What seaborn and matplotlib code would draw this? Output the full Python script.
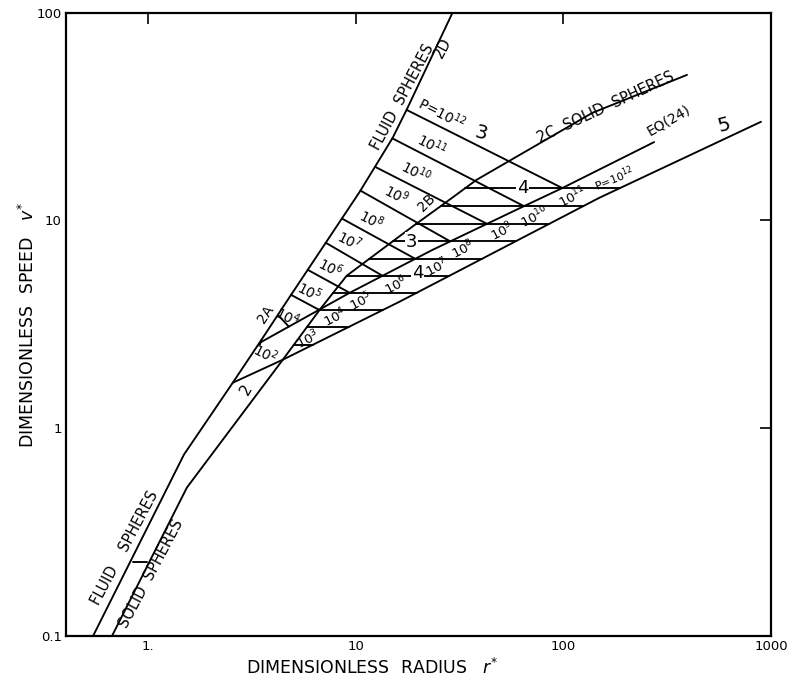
import numpy as np
import pandas as pd
import matplotlib
matplotlib.use("Agg")
import matplotlib.pyplot as plt
import seaborn as sns

sns.set_theme(style="white")
plt.rcParams["font.family"] = ["DejaVu Sans"]
plt.rcParams["mathtext.fontset"] = "dejavusans"
plt.rcParams["text.color"] = "black"

# ---- curves in (r*, v*) ----
fluid_r = [0.544, 1.49, 2.56, 3.57, 4.82, 7.50, 10.45, 15.06, 17.59, 29.3]
fluid_v = [0.1, 0.746, 1.654, 2.72, 4.29, 8.33, 13.7, 24.9, 34.0, 100.0]

solid_r = [0.671, 1.54, 4.46]
solid_v = [0.1, 0.518, 2.135]

solid_bc_r = [4.46, 6.71, 9.05, 18.8, 26.2, 38.2, 138.0, 394.0]
solid_bc_v = [2.135, 3.71, 5.41, 9.34, 11.87, 15.66, 32.9, 50.1]

eq24_r = [3.455, 9.36, 23.45, 63.5, 98.9, 273.8]
eq24_v = [2.576, 4.48, 7.21, 11.6, 14.3, 23.8]

line5_r = [2.56, 4.46, 16.27, 148.9, 895.0]
line5_v = [1.654, 2.135, 4.06, 12.83, 29.8]

# property number P = 10^k lines
p_exp = [3, 4, 5, 6, 7, 8, 9, 10, 11, 12]
p_level_v = [2.52, 3.08, 3.71, 4.48, 5.41, 6.53, 7.92, 9.62, 11.7, 14.3]
p_start_v = [2.66, 3.51, 4.38, 5.78, 7.80, 10.2, 13.9, 18.1, 24.8, 34.0]

# labels of the P lines: left family (along the sloped lines)
left_lab_exp = [12, 11, 10, 9, 8, 7, 6, 5, 4, 2]
left_lab_r = [26.2, 23.45, 19.6, 15.7, 11.9, 9.36, 7.58, 6.01, 4.71, 3.69]
left_lab_v = [32.9, 23.1, 17.1, 13.3, 10.06, 7.97, 5.91, 4.53, 3.44, 2.28]
# right family (along EQ(24))
right_lab_exp = [3, 4, 5, 6, 7, 8, 9, 10, 11]
right_lab_r = [5.88, 7.93, 10.57, 15.7, 24.8, 33.0, 50.9, 72.5, 110.5]
right_lab_v = [2.66, 3.40, 4.06, 4.84, 5.91, 7.21, 8.81, 10.4, 12.97]

x_ticks = [1, 10, 100, 1000]
x_tick_labels = ["1.", "10", "100", "1000"]
y_ticks = [0.1, 1, 10, 100]
y_tick_labels = ["0.1", "1", "10", "100"]


def at_v(v, cr, cv):
    """r on a curve at speed v (log-log interpolation)."""
    return 10 ** np.interp(np.log10(v), np.log10(cv), np.log10(cr))


rows = []


def add(name, rs, vs):
    for r, v in zip(rs, vs):
        rows.append({"seg": name, "r": r, "v": v})


add("fluid", fluid_r, fluid_v)
add("solid", solid_r, solid_v)
add("solid_bc", solid_bc_r, solid_bc_v)
add("eq24", eq24_r, eq24_v)
add("line5", line5_r, line5_v)

for k, vl, vs in zip(p_exp, p_level_v, p_start_v):
    r0 = at_v(vs, fluid_r, fluid_v)
    r1 = at_v(vl, eq24_r, eq24_v)
    add(f"slope{k}", [r0, r1], [vs, vl])
    rl = at_v(vl, solid_bc_r, solid_bc_v)
    rr = at_v(vl, line5_r, line5_v)
    add(f"flat{k}", [rl, rr], [vl, vl])

# short separator between the two lower labels
v_sep = 0.228
rf = at_v(v_sep, fluid_r, fluid_v)
rs_ = at_v(v_sep, solid_r, solid_v)
add("sep", [rf * 1.03, rs_ * 0.97], [v_sep, v_sep])

df = pd.DataFrame(rows)

W, H = 790, 681
fig = plt.figure(figsize=(W / 100, H / 100), dpi=100)
ax = fig.add_axes([66 / W, 1 - 636 / H, (771 - 66) / W, (636 - 12.5) / H])

sns.lineplot(data=df, x="r", y="v", units="seg", estimator=None, sort=False,
             color="black", lw=1.35, ax=ax, legend=False)

ax.set_xscale("log")
ax.set_yscale("log")
ax.set_xlim(0.403, 1000)
ax.set_ylim(0.1, 100)
ax.set_xlabel("")
ax.set_ylabel("")
ax.minorticks_off()
ax.set_xticks(x_ticks)
ax.set_xticklabels(x_tick_labels)
ax.set_yticks(y_ticks)
ax.set_yticklabels(y_tick_labels)
ax.tick_params(which="major", direction="in", length=8, width=1.2,
               top=True, right=True, labelsize=9.5, colors="black")
ax.tick_params(axis="x", pad=3)
ax.tick_params(axis="y", pad=3)
for s in ax.spines.values():
    s.set_visible(True)
    s.set_color("black")
    s.set_linewidth(1.6)

kw = dict(ha="center", va="center", rotation_mode="anchor", color="black")
gap = dict(facecolor="white", edgecolor="none", pad=0.6)

for k, r, v in zip(left_lab_exp, left_lab_r, left_lab_v):
    txt = r"P=$10^{12}$" if k == 12 else rf"$10^{{{k}}}$"
    ax.text(r, v, txt, rotation=-27, fontsize=10, **kw)
for k, r, v in zip(right_lab_exp, right_lab_r, right_lab_v):
    ax.text(r, v, rf"$10^{{{k}}}$", rotation=27, fontsize=9.5, **kw)
ax.text(175.9, 15.8, r"P=$10^{12}$", rotation=22, fontsize=8, **kw)

ax.text(3.69, 3.55, "2A", rotation=56, fontsize=10, **kw)
ax.text(2.99, 1.53, "2", rotation=60, fontsize=11, **kw)
ax.text(21.9, 12.1, "2B", rotation=45, fontsize=10, **kw)
ax.text(161, 34.8, "2C  SOLID  SPHERES", rotation=25, fontsize=10.5, **kw)
ax.text(323, 30.4, "EQ(24)", rotation=30, fontsize=10, **kw)
ax.text(594, 28.8, "5", rotation=15, fontsize=14, **kw)
ax.text(40.3, 26.3, "3", rotation=-15, fontsize=14, **kw)
ax.text(63.5, 14.3, "4", fontsize=13, bbox=gap, **kw)
ax.text(18.6, 7.88, "3", fontsize=13, bbox=gap, **kw)
ax.text(19.9, 5.55, "4", fontsize=13, bbox=gap, **kw)
ax.text(16.8, 39.3, "FLUID  SPHERES", rotation=62, fontsize=10.5, **kw)
ax.text(26.2, 67.5, "2D", rotation=62, fontsize=10.5, **kw)
ax.text(0.775, 0.266, "FLUID    SPHERES", rotation=62, fontsize=10.5, **kw)
ax.text(1.034, 0.20, "SOLID  SPHERES", rotation=62, fontsize=10.5, **kw)

fig.text(372 / W, 1 - 668 / H, r"DIMENSIONLESS  RADIUS   $r^{*}$",
         ha="center", va="center", fontsize=12.5, color="black")
fig.text(28 / W, 1 - 325 / H, r"DIMENSIONLESS  SPEED   $v^{*}$",
         ha="center", va="center", rotation=90, fontsize=12.5, color="black")

fig.savefig("out.png", dpi=100, facecolor="white")
